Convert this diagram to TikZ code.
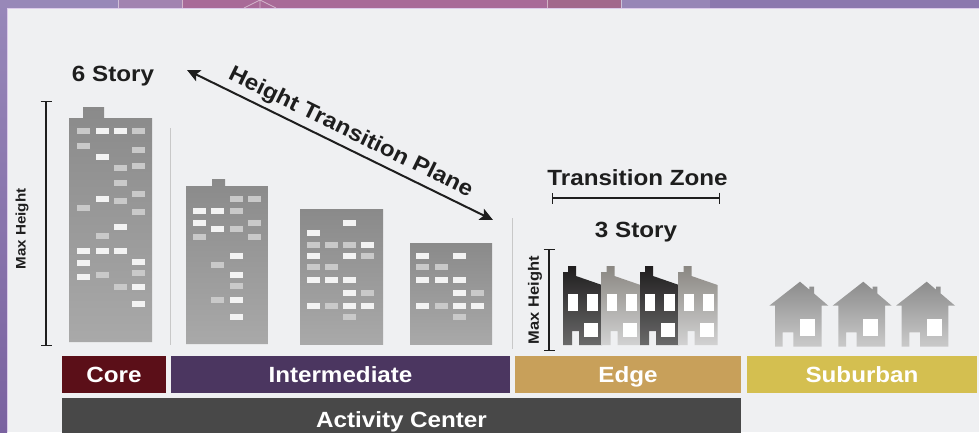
\documentclass[tikz,border=0pt]{standalone}
\usepackage{fontspec}
\setmainfont{Liberation Sans}[FakeStretch=1.1]
\usetikzlibrary{arrows.meta}
\definecolor{panelbg}{HTML}{EFF0F2}
\definecolor{panelline}{HTML}{DCCBEA}
\definecolor{tA}{HTML}{9888B8}
\definecolor{tB}{HTML}{A283B0}
\definecolor{tC}{HTML}{A86A98}
\definecolor{tD}{HTML}{A2688C}
\definecolor{tE}{HTML}{9786B6}
\definecolor{tF}{HTML}{8C78AE}
\definecolor{lstop}{HTML}{9787B9}
\definecolor{lsbot}{HTML}{7A62A0}
\definecolor{txt}{HTML}{1E1E1E}
\definecolor{bldtop}{HTML}{8A8A8A}
\definecolor{bldbot}{HTML}{A9A9A9}
\definecolor{winw}{HTML}{F3F3F3}
\definecolor{wing}{HTML}{C9C9C9}
\definecolor{divider}{HTML}{C8C8C8}
\definecolor{corec}{HTML}{5B0F18}
\definecolor{interc}{HTML}{4B3660}
\definecolor{edgec}{HTML}{C8A05A}
\definecolor{suburbc}{HTML}{D4BF50}
\definecolor{actc}{HTML}{484848}
\definecolor{rdtop}{HTML}{1F1D1E}
\definecolor{rdbot}{HTML}{6A6A6A}
\definecolor{rltop}{HTML}{8A8782}
\definecolor{rlbot}{HTML}{D2D2D2}
\definecolor{shtop}{HTML}{8C8C8C}
\definecolor{shbot}{HTML}{CACACA}
\begin{document}
\begin{tikzpicture}[x=1pt,y=-1pt,
  lbl/.style={font=\bfseries\fontsize{22}{24}\selectfont, text=txt, inner sep=0pt},
  small/.style={font=\bfseries\fontsize{13.8}{15}\selectfont, text=txt, inner sep=0pt, rotate=90},
  bar/.style={font=\bfseries\fontsize{22}{24}\selectfont, text=white, inner sep=0pt,
              text height=16pt, text depth=0pt, minimum height=37pt},
  dim/.style={draw=txt, line width=1.3pt, {Bar[width=11pt]}-{Bar[width=11pt]}},
  bld/.style={top color=bldtop, bottom color=bldbot},
  rhdark/.style={top color=rdtop, bottom color=rdbot},
  rhlight/.style={top color=rltop, bottom color=rlbot},
  house/.style={top color=shtop, bottom color=shbot},
  divline/.style={draw=divider, line width=1pt}]
\useasboundingbox (0,0) rectangle (979,432);
\clip (0,0) rectangle (979,432);
% background
\fill[panelbg] (0,0) rectangle (979,432);
\fill[tA] (0,0) rectangle (118,8);
\fill[tB] (118,0) rectangle (182,8);
\fill[tC] (182,0) rectangle (547,8);
\fill[tD] (547,0) rectangle (621,8);
\fill[tE] (621,0) rectangle (710,8);
\fill[tF] (710,0) rectangle (979,8);
\foreach \xx in {118,182,547,621} \draw[white, opacity=0.5, line width=1pt] (\xx,0) -- (\xx,8);
\draw[white, opacity=0.5, line width=0.8pt] (244,8) -- (260,0) -- (276,8) (260,0) -- (260,8);
\shade[top color=lstop, bottom color=lsbot] (0,8) rectangle (7,432);
\draw[panelline, line width=1pt] (7.5,432) -- (7.5,8.5) -- (979,8.5);

% dividers
\draw[divline] (170,128) -- (170,345);
\draw[divline] (512.5,218) -- (512.5,349);

% core tower
\shade[bld] (69,342) -- (69,118) -- (83,118) -- (83,107) -- (104,107) -- (104,118) -- (152,118) -- (152,342) -- cycle;
\foreach \x/\y/\t in {77/131/g, 96/131/w, 114/131/w, 132/131/g,
  77/146/g, 132/150/g, 96/157/w, 114/168/g, 132/166/g, 114/183/g, 132/194/g, 96/199/w, 114/201/g, 77/208/g, 132/212/g,
  114/227/w, 96/236/g, 77/251/w, 96/251/w, 114/251/w, 77/263/w, 132/262/w, 132/273/g, 96/275/g, 77/277/w, 114/287/g, 132/287/w, 132/304/w}
  \fill[fill=win\t] (\x,\y-3) rectangle ++(13,6);
% intermediate 1
\shade[bld] (186,344) -- (186,186) -- (212,186) -- (212,179) -- (225,179) -- (225,186) -- (268,186) -- (268,344) -- cycle;
\foreach \x/\y/\t in {230/199/g, 248/199/g, 193/211/w, 211/211/w, 230/211/g, 193/223/w, 248/223/g, 211/229/w, 230/229/g, 193/237/g, 248/237/g, 230/256/w, 211/265/g, 230/275/w, 230/286/g, 211/300/g, 230/300/w, 230/317/w}
  \fill[fill=win\t] (\x,\y-3) rectangle ++(13,6);
% intermediate 2
\shade[bld] (300,209) rectangle (383,344);
\foreach \x/\y/\t in {343/223/w, 307/233/w, 307/245/g, 325/245/g, 343/245/g, 361/245/w, 307/256/w, 343/256/w, 361/256/g, 307/267/g, 325/267/g, 307/280/w, 325/280/w, 343/280/w, 343/293/w, 361/293/g, 307/306/w, 325/306/g, 343/306/w, 361/306/w, 343/317/g}
  \fill[fill=win\t] (\x,\y-3) rectangle ++(13,6);
% intermediate 3
\shade[bld] (410,243) rectangle (492,344);
\foreach \x/\y/\t in {416/256/w, 453/256/w, 416/267/g, 435/267/g, 416/280/w, 435/280/w, 453/280/w, 453/293/w, 471/293/g, 416/306/w, 435/306/g, 453/306/w, 471/306/w, 453/317/g}
  \fill[fill=win\t] (\x,\y-3) rectangle ++(13,6);

% row houses
\foreach \x/\s in {563/rhdark, 601.5/rhlight, 640/rhdark, 678.5/rhlight} {
  \shade[\s] (\x,345) -- (\x,272) -- (\x+5,272) -- (\x+5,266) -- (\x+13,266) -- (\x+13,276) -- (\x+39,285) -- (\x+39,345)
     -- (\x+16,345) -- (\x+16,331) -- (\x+9,331) -- (\x+9,345) -- cycle;
  \fill[white] (\x+5,294) rectangle (\x+15,311);
  \fill[white] (\x+24,294) rectangle (\x+35,311);
  \fill[white] (\x+21,323) rectangle (\x+35,337);
}
% suburban houses
\foreach \x in {769.3, 832.6, 896} {
  \shade[house] (\x,305.7) -- (\x+30.7,281.7) -- (\x+40,289.6) -- (\x+40,286.7) -- (\x+44.7,286.7) -- (\x+44.7,293.5)
     -- (\x+59,305.7) -- (\x+52.4,305.7) -- (\x+52.4,346.7) -- (\x+24,346.7) -- (\x+24,332.3) -- (\x+13.4,332.3)
     -- (\x+13.4,346.7) -- (\x+5.7,346.7) -- (\x+5.7,305.7) -- cycle;
  \fill[white] (\x+30.7,319.3) rectangle (\x+45.7,336);
}

% labels
\node[lbl, anchor=base] (six) at (113,81) {6 Story};
\node[lbl, anchor=base] (three) at (636,237) {3 Story};
\node[lbl, anchor=base] (tz) at (637.5,185) {Transition Zone};
\node[lbl, anchor=base, rotate=-26.1] (htp) at (348,138) {Height Transition Plane};
\node[small] (mh1) at (22,229) {Max Height};
\node[small, font=\bfseries\fontsize{15}{16}\selectfont] (mh2) at (535,300) {Max Height};

% dimension lines
\coordinate (mh1t) at (46,101);
\coordinate (mh1b) at (46,346);
\draw[dim] (mh1t) -- (mh1b);
\coordinate (mh2t) at (549,249);
\coordinate (mh2b) at (549,351);
\draw[dim] (mh2t) -- (mh2b);
\coordinate (tzl) at (552,198);
\coordinate (tzr) at (720,198);
\draw[dim] (tzl) -- (tzr);
\coordinate (htpA) at (187,70);
\coordinate (htpB) at (493,220);
\draw[draw=txt, line width=2pt, {Stealth[length=13pt,width=12pt,inset=3pt]}-{Stealth[length=13pt,width=12pt,inset=3pt]}] (htpA) -- (htpB);

% bars
\node[bar, fill=corec, minimum width=104pt] (core) at (114,374.5) {Core};
\node[bar, fill=interc, minimum width=339pt] (inter) at (340.5,374.5) {Intermediate};
\node[bar, fill=edgec, minimum width=226pt] (edge) at (628,374.5) {Edge};
\node[bar, fill=suburbc, minimum width=230pt] (suburb) at (862,374.5) {Suburban};
\node[bar, fill=actc, minimum width=679pt, minimum height=42pt] (act) at (401.5,419) {Activity Center};
\end{tikzpicture}
\end{document}
